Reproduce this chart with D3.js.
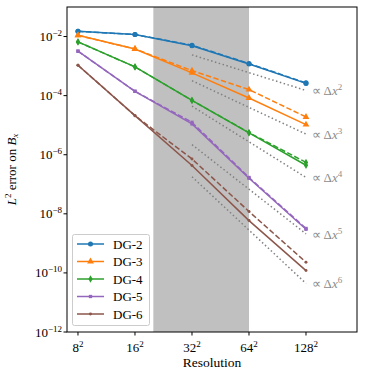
<!DOCTYPE html>
<html lang="en">
<head>
    <meta charset="UTF-8">
    <title>L2 error convergence</title>
    <script src="https://d3js.org/d3.v7.min.js"></script>
    <style>
        body {
            margin: 0;
            background: white;
        }
    </style>
</head>
<body>
<script>
    // Data
    const resolutions = [8, 16, 32, 64, 128];
    const xTickLabels = ["8", "16", "32", "64", "128"];
    const seriesNames = ["DG-2", "DG-3", "DG-4", "DG-5", "DG-6"];
    const colors = ["#1f77b4", "#ff7f0e", "#2ca02c", "#9467bd", "#8c564b"];

    const solidErrors = [
        [1.5e-2, 1.17e-2, 4.9e-3, 1.18e-3, 2.6e-4],
        [1.1e-2, 3.8e-3, 5.9e-4, 8.3e-5, 1.05e-5],
        [6.6e-3, 9.4e-4, 6.9e-5, 5.5e-6, 4.4e-7],
        [3.2e-3, 1.4e-4, 1.1e-5, 1.6e-7, 3.0e-9],
        [1.07e-3, 2.1e-5, 4.3e-7, 5.9e-9, 1.2e-10]
    ];
    const dashedErrors = [
        [1.5e-2, 1.17e-2, 5.1e-3, 1.22e-3, 2.7e-4],
        [1.1e-2, 3.8e-3, 7.0e-4, 1.6e-4, 1.9e-5],
        [6.6e-3, 9.4e-4, 6.9e-5, 5.6e-6, 5.5e-7],
        [3.2e-3, 1.4e-4, 1.25e-5, 1.7e-7, 3.2e-9],
        [1.07e-3, 2.1e-5, 7.2e-7, 1.2e-8, 2.3e-10]
    ];

    // reference slopes, drawn from 32^2 to 128^2
    const refOrders = [2, 3, 4, 5, 6];
    const refRes = [32, 128];
    const refStart = [2.4e-3, 3.2e-4, 4.4e-5, 2.2e-6, 1.8e-7];
    const refEnd = [1.5e-4, 5.0e-6, 1.7e-7, 2.1e-9, 4.4e-11];

    const bandRange = [20, 64];
    const yTickExps = [-12, -10, -8, -6, -4, -2];

    const width = 374, height = 374;
    const margin = {top: 7, right: 17, bottom: 42, left: 67};
    const serif = "Liberation Serif";

    const svg = d3.select("body").append("svg")
        .attr("width", width)
        .attr("height", height)
        .attr("font-family", serif);

    const x = d3.scaleLog().base(2)
        .domain([7, 238])
        .range([margin.left, width - margin.right]);
    const y = d3.scaleLog()
        .domain([1e-12, 1e-1])
        .range([height - margin.bottom, margin.top]);

    const plotTop = margin.top, plotBottom = height - margin.bottom;

    // shaded region
    svg.append("rect")
        .attr("x", x(bandRange[0]))
        .attr("y", plotTop)
        .attr("width", x(bandRange[1]) - x(bandRange[0]))
        .attr("height", plotBottom - plotTop)
        .attr("fill", "#c0c0c0");

    // reference lines
    const refLine = d3.line().x(d => x(d[0])).y(d => y(d[1]));
    refOrders.forEach((p, i) => {
        const pts = [[refRes[0], refStart[i]], [refRes[1], refEnd[i]]];
        svg.append("path")
            .attr("d", refLine(pts))
            .attr("fill", "none")
            .attr("stroke", "#808080")
            .attr("stroke-width", 1.5)
            .attr("stroke-dasharray", "1.5,2.5");

        const t = svg.append("text")
            .attr("x", x(refRes[1]) + 6)
            .attr("y", y(refEnd[i]) + 5)
            .attr("fill", "#8c8c8c")
            .attr("font-size", 13);
        t.append("tspan").text("\u221D \u0394");
        t.append("tspan").attr("font-style", "italic").text("x");
        t.append("tspan").attr("dy", -5).attr("font-size", 9).text(p);
    });

    // marker shapes
    const symbols = [
        d3.symbol().type(d3.symbolCircle).size(20),
        d3.symbol().type(d3.symbolTriangle).size(20),
        d3.symbol().type(d3.symbolDiamond).size(16),
        d3.symbol().type(d3.symbolSquare).size(11),
        d3.symbol().type(d3.symbolCircle).size(7)
    ];

    const line = d3.line()
        .x((d, i) => x(resolutions[i]))
        .y(d => y(d));

    function drawSeries(values, i, dashed) {
        const g = svg.append("g");
        g.append("path")
            .attr("d", line(values))
            .attr("fill", "none")
            .attr("stroke", colors[i])
            .attr("stroke-width", 1.5)
            .attr("stroke-dasharray", dashed ? "5.5,2.4" : null);
        g.selectAll("path.m")
            .data(values)
            .join("path")
            .attr("class", "m")
            .attr("d", symbols[i]())
            .attr("transform", (d, k) => `translate(${x(resolutions[k])},${y(d)})`)
            .attr("fill", colors[i]);
    }

    seriesNames.forEach((name, i) => {
        drawSeries(dashedErrors[i], i, true);
        drawSeries(solidErrors[i], i, false);
    });

    // frame
    svg.append("rect")
        .attr("x", margin.left)
        .attr("y", plotTop)
        .attr("width", width - margin.right - margin.left)
        .attr("height", plotBottom - plotTop)
        .attr("fill", "none")
        .attr("stroke", "black")
        .attr("stroke-width", 1);

    // x axis
    const xAxis = svg.append("g");
    resolutions.forEach((r, i) => {
        xAxis.append("line")
            .attr("x1", x(r)).attr("x2", x(r))
            .attr("y1", plotBottom).attr("y2", plotBottom + 3.5)
            .attr("stroke", "black");
        const t = xAxis.append("text")
            .attr("x", x(r))
            .attr("y", plotBottom + 20)
            .attr("text-anchor", "middle")
            .attr("font-size", 13);
        t.append("tspan").text(xTickLabels[i]);
        t.append("tspan").attr("dy", -5).attr("font-size", 9).text("2");
    });
    svg.append("text")
        .attr("x", (margin.left + width - margin.right) / 2)
        .attr("y", height - 7)
        .attr("text-anchor", "middle")
        .attr("font-size", 13.5)
        .text("Resolution");

    // y axis
    const yAxis = svg.append("g");
    yTickExps.forEach(e => {
        const v = Math.pow(10, e);
        yAxis.append("line")
            .attr("x1", margin.left - 3.5).attr("x2", margin.left)
            .attr("y1", y(v)).attr("y2", y(v))
            .attr("stroke", "black");
        const t = yAxis.append("text")
            .attr("x", margin.left - 5)
            .attr("y", y(v) + 4.5)
            .attr("text-anchor", "end")
            .attr("font-size", 13);
        t.append("tspan").text("10");
        t.append("tspan").attr("dy", -5).attr("font-size", 9).text("\u2212" + Math.abs(e));
    });
    const yl = svg.append("text")
        .attr("transform", `translate(16,${(plotTop + plotBottom) / 2}) rotate(-90)`)
        .attr("text-anchor", "middle")
        .attr("font-size", 13);
    yl.append("tspan").attr("font-style", "italic").text("L");
    yl.append("tspan").attr("dy", -5).attr("font-size", 9).text("2");
    yl.append("tspan").attr("dy", 5).text(" error on ");
    yl.append("tspan").attr("font-style", "italic").text("B");
    yl.append("tspan").attr("dy", 2).attr("font-size", 9).attr("font-style", "italic").text("x");

    // legend
    const legend = svg.append("g");
    legend.append("rect")
        .attr("x", 72.5).attr("y", 234.5)
        .attr("width", 77).attr("height", 91)
        .attr("rx", 2)
        .attr("fill", "white").attr("fill-opacity", 0.8)
        .attr("stroke", "#cccccc");
    seriesNames.forEach((name, i) => {
        const ly = 244 + i * 17.5;
        legend.append("line")
            .attr("x1", 77).attr("x2", 104)
            .attr("y1", ly).attr("y2", ly)
            .attr("stroke", colors[i]).attr("stroke-width", 1.5);
        legend.append("path")
            .attr("d", symbols[i]())
            .attr("transform", `translate(90.5,${ly})`)
            .attr("fill", colors[i]);
        legend.append("text")
            .attr("x", 113).attr("y", ly + 4.5)
            .attr("font-size", 13)
            .text(name);
    });
</script>
</body>
</html>
